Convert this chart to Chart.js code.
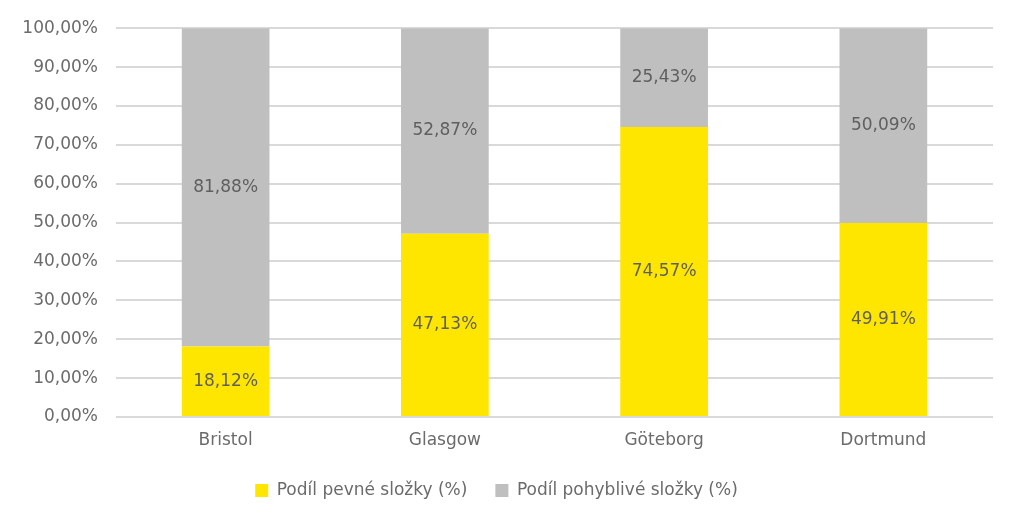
<!DOCTYPE html>
<html>
<head>
<meta charset="utf-8">
<script src="https://cdn.jsdelivr.net/npm/chart.js@4"></script>
<style>
  html, body { margin: 0; padding: 0; background: #fff; }
  #wrap { width: 1024px; height: 515px; }
</style>
</head>
<body>
<div id="wrap"><canvas id="chart" width="1024" height="515"></canvas></div>
<script>
// data
const cities = ['Bristol', 'Glasgow', 'Göteborg', 'Dortmund'];
const fixedShare = [18.12, 47.13, 74.57, 49.91];
const variableShare = [81.88, 52.87, 25.43, 50.09];
const seriesNames = ['Podíl pevné složky (%)', 'Podíl pohyblivé složky (%)'];
const yTicks = [0, 10, 20, 30, 40, 50, 60, 70, 80, 90, 100];

const textColor = '#6b6b6b';
const fontFamily = '"DejaVu Sans", sans-serif';

const fmt = v => v.toFixed(2).replace('.', ',') + '%';

// draw the value labels in the middle of each bar segment
const barLabels = {
  id: 'barLabels',
  afterDatasetsDraw(chart) {
    const ctx = chart.ctx;
    ctx.save();
    ctx.font = '17px ' + fontFamily;
    ctx.fillStyle = '#5f5f5f';
    ctx.textAlign = 'center';
    ctx.textBaseline = 'middle';
    chart.data.datasets.forEach((ds, i) => {
      chart.getDatasetMeta(i).data.forEach((bar, j) => {
        const mid = (bar.y + bar.base) / 2;
        ctx.fillText(fmt(ds.data[j]), bar.x, mid);
      });
    });
    ctx.restore();
  }
};

new Chart(document.getElementById('chart'), {
  type: 'bar',
  data: {
    labels: cities,
    datasets: [
      { label: seriesNames[0], data: fixedShare, backgroundColor: '#ffe600' },
      { label: seriesNames[1], data: variableShare, backgroundColor: '#bfbfbf' }
    ]
  },
  options: {
    responsive: false,
    animation: false,
    layout: { padding: { top: 27, right: 31, bottom: 6, left: 0 } },
    datasets: { bar: { categoryPercentage: 1, barPercentage: 0.4 } },
    plugins: {
      legend: {
        position: 'bottom',
        labels: {
          color: textColor,
          font: { family: fontFamily, size: 17 },
          boxWidth: 13,
          boxHeight: 13,
          padding: 28
        }
      },
      tooltip: { enabled: false }
    },
    scales: {
      x: {
        stacked: true,
        grid: { display: false, drawTicks: false },
        border: { display: false },
        ticks: { color: textColor, font: { family: fontFamily, size: 17 }, padding: 13 },
        afterFit(scale) { scale.height = 37; }
      },
      y: {
        stacked: true,
        min: 0,
        max: 100,
        afterBuildTicks(scale) { scale.ticks = yTicks.map(v => ({ value: v })); },
        grid: { color: '#d9d9d9', lineWidth: 2, drawTicks: false },
        border: { display: false },
        ticks: {
          color: textColor,
          font: { family: fontFamily, size: 17 },
          padding: 18,
          callback: v => fmt(v)
        },
        afterFit(scale) { scale.width = 116; }
      }
    }
  },
  plugins: [barLabels]
});
</script>
</body>
</html>
